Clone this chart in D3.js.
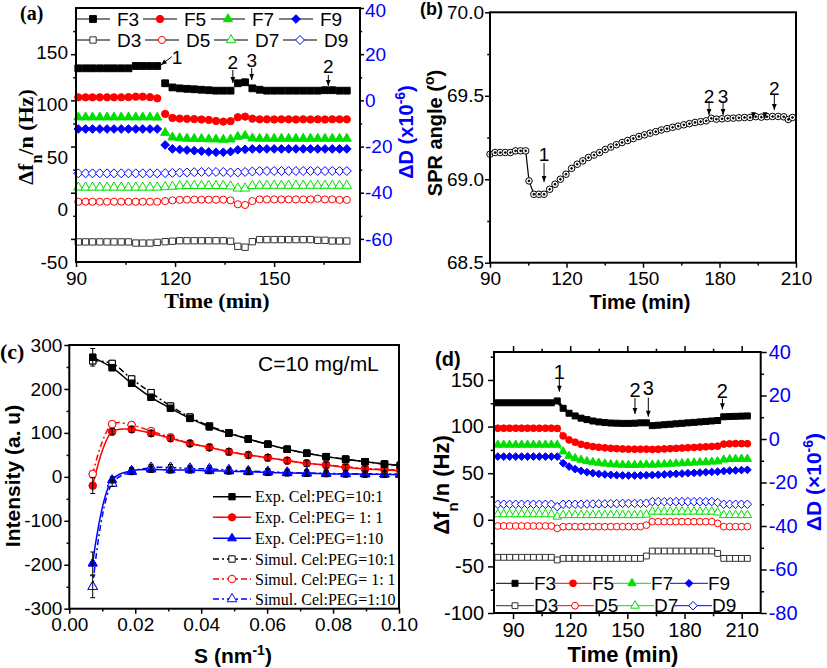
<!DOCTYPE html>
<html><head><meta charset="utf-8">
<script src="https://cdn.jsdelivr.net/npm/d3@7"></script>
<style>body{margin:0;background:#fff}svg{display:block}</style>
</head><body>
<svg id="c" width="827" height="668"></svg>
<script>
// ================= DATA =================
// ---- panel (a) ----
const aTime = [90.7,92.9,95.0,97.2,99.4,101.5,103.7,105.9,108.1,110.2,112.4,114.6,
  117.0,119.2,121.4,123.6,125.8,128.0,130.2,132.4,134.6,136.8,139.0,141.2,143.4,145.6,147.8,150.0,152.2,154.4,156.6,158.8,161.0,163.2,165.4,167.6,169.8,172.0];
const aF3 = [134.7,134.7,134.7,134.7,134.7,134.7,134.7,134.7,137.2,137.2,137.2,137.2,
  118.5,114,113,112.5,112,111.5,111,110.5,110.5,110.5,118.5,119.6,113,111.5,110.5,110.5,110.5,110.5,110.5,110.5,110.5,110.5,111,111,110.5,110.5];
const aF5 = [103.3,103.3,103.3,103.3,103.3,103.3,103.3,103.5,104,104,103.5,102.2,
  85.3,81,80.3,80,79.7,79.3,78.8,77.7,77,77.5,81.7,82.4,80.2,79.5,79.5,79.3,79.5,79.5,79.3,79.5,79.3,79.5,79.3,79.5,79.5,79.5];
const aF7 = [81.7,81.7,81.7,81.7,81.7,81.7,81.7,81.7,81.7,81.7,81.7,81.5,
  65,60,59.2,58.7,58.5,58.3,58,57.9,57.5,57.9,60.7,61.8,58.9,58.6,58.6,58.6,58.6,58.6,58.6,58.6,58.6,58.6,58.6,58.6,58.6,58.6];
const aF9 = [69,69,69,69,69,69,69,69,69,69,69,69,
  51.7,47.4,46.8,46.2,45.5,45,44.2,43.8,43.8,44.5,46.5,47,47.4,47.4,47.4,47.4,47.4,47.4,47.4,47.4,47.4,47.4,47.4,47.4,47.4,47.4];
const aD3 = [-61.3,-61.3,-61.3,-61.3,-61.3,-61.3,-61.3,-61.3,-61.8,-61.8,-61.8,-61.5,
  -61.2,-61.0,-60.8,-60.8,-60.8,-60.8,-60.8,-60.8,-60.8,-61.0,-63.2,-63.6,-61.2,-60.3,-60.3,-60.3,-60.3,-60.3,-60.3,-60.3,-60.3,-60.6,-60.6,-60.9,-60.9,-60.9];
const aD5 = [-43.9,-43.9,-43.9,-43.9,-43.9,-43.9,-43.9,-43.9,-43.9,-43.9,-43.9,-43.9,
  -43.6,-43.3,-43.1,-43.0,-43.0,-43.0,-43.0,-43.0,-43.0,-43.3,-45.0,-45.3,-43.6,-42.9,-42.9,-42.9,-42.9,-42.9,-42.9,-42.9,-42.9,-42.6,-42.9,-42.9,-43.1,-43.1];
const aD7 = [-37.7,-37.7,-37.7,-37.7,-37.7,-37.7,-37.7,-37.7,-37.7,-37.7,-37.7,-37.7,
  -37.5,-37.3,-37.1,-37.0,-37.0,-37.0,-37.0,-37.0,-37.0,-37.2,-38.1,-38.1,-37.0,-36.9,-36.9,-36.9,-36.9,-36.9,-36.9,-36.9,-36.9,-36.9,-36.9,-36.9,-36.9,-36.9];
const aD9 = [-31.6,-31.6,-31.6,-31.6,-31.6,-31.6,-31.6,-31.6,-31.6,-31.6,-31.6,-31.6,
  -31.5,-31.4,-31.3,-31.2,-31.1,-31.0,-31.0,-31.0,-31.0,-31.2,-31.2,-31.0,-30.8,-30.6,-30.6,-30.6,-30.6,-30.6,-30.6,-30.6,-30.6,-30.6,-30.6,-30.6,-30.6,-30.6];
const aXTicks = [90,120,150];
const aYTicks = [-50,0,50,100,150];
const aY2Ticks = [-60,-40,-20,0,20,40];
const aNotes = [
  {txt:'1', t:120.6, v:146.2, t1:119.0, v1:147.3, t2:115.7, v2:138.3},
  {txt:'2', t:137.5, v:141.5, t1:137.5, v1:132.9, t2:137.5, v2:118.8},
  {txt:'3', t:143.2, v:143.7, t1:143.2, v1:135.0, t2:143.2, v2:122.0},
  {txt:'2', t:166.4, v:136.4, t1:166.4, v1:127.5, t2:166.4, v2:115.5}];

// ---- panel (b) ----
const bTime = [90,92,94,96,98,100,102,104,105.3,107.2,109.2,111.2,
  113.4,115.5,117.6,119.8,122.0,124.2,126.4,128.6,130.8,133.0,135.2,137.4,139.6,141.8,144.0,146.2,148.4,150.6,152.8,155.0,157.2,159.4,161.6,163.8,166.0,168.2,170.4,172.6,174.8,
  176.8,178.8,181.0,183.2,185.4,187.6,189.8,192.0,194.2,196.4,198.6,200.8,203.0,205.2,207.0,208.6];
const bAngle = [69.15,69.16,69.16,69.16,69.16,69.17,69.17,69.17,68.99,68.91,68.91,68.91,
  68.94,68.97,69.00,69.03,69.065,69.09,69.11,69.13,69.145,69.16,69.178,69.193,69.207,69.22,69.232,69.244,69.256,69.266,69.276,69.285,69.295,69.303,69.311,69.318,69.326,69.333,69.34,69.345,69.35,
  69.365,69.36,69.362,69.365,69.366,69.368,69.37,69.37,69.375,69.372,69.375,69.376,69.376,69.374,69.358,69.37];
const bXTicks = [90,120,150,180,210];
const bYTicks = [68.5,69.0,69.5,70.0];
const bNotes = [
  {txt:'1', t:111.2, v:69.151, t1:111.2, v1:69.097, t2:111.2, v2:68.984},
  {txt:'2', t:175.9, v:69.493, t1:175.9, v1:69.469, t2:175.9, v2:69.385},
  {txt:'3', t:181.4, v:69.493, t1:181.4, v1:69.469, t2:181.4, v2:69.385},
  {txt:'2', t:201.5, v:69.546, t1:201.5, v1:69.505, t2:201.5, v2:69.415},
  {txt:'',  t:193.3, v:69.40,  t1:193.3, v1:69.400, t2:193.3, v2:69.365},
  {txt:'',  t:197.8, v:69.39,  t1:197.8, v1:69.392, t2:197.8, v2:69.365}];

// ---- panel (c) ----
const cS = [0.0071,0.0130,0.0189,0.0248,0.0307,0.0366,0.0425,0.0484,0.0543,0.0602,0.0661,0.0720,0.0779,0.0838,0.0897,0.0956,0.1004];
const cExp10 = [272,248.6,212.8,181,156,133,114,99,86,74,62.6,53.5,46,40,34.5,29,26];
const cSim10 = [264,258,222.7,191.6,161,136,115.7,100.5,86,74,62.6,53.5,46,40,34.5,29,26];
const cExp1  = [-20,102.8,108,99,87.6,76,67,57,49.7,43.6,36.8,30.7,27,21.6,17.8,15.6,14];
const cSim1  = [6.4,120,118,104,90,76,67,57,49.7,43.6,37,31,27,23,19,17,15.5];
const cExp01 = [-197,-7,14,17,15.5,15.5,14,13,11.8,10,8.7,8,7,6.4,6,5.7,5];
const cSim01 = [-250,-15,12,21,21,19,18,15.5,13,11.8,10,8.7,8,7,7,6.4,6.4];
const cErrExp10 = [20,7,7,7,7,7,7,7,7,7,7,7,7,7,7,7,7];
const cErrExp1  = [18,7,7,7,7,7,7,7,7,7,7,7,7,7,7,7,7];
const cErrExp01 = [26,7,7,7,7,7,7,7,7,7,7,7,7,7,7,7,7];
const cErrSim01 = [25,7,7,7,7,7,7,7,7,7,7,7,7,7,7,7,7];
const cLegend = ['Exp. Cel:PEG=10:1','Exp. Cel:PEG= 1: 1','Exp. Cel:PEG=1:10','Simul. Cel:PEG=10:1','Simul. Cel:PEG= 1: 1','Simul. Cel:PEG=1:10'];
const cXTicks = [0,0.02,0.04,0.06,0.08,0.10];
const cYTicks = [-300,-200,-100,0,100,200,300];

// ---- panel (d) ----
const dTime = [82.0,85.1,88.2,91.4,94.5,97.6,100.7,103.8,107.0,110.1,113.2,116.3,119.4,122.6,125.7,128.8,131.9,135.0,138.2,141.3,144.4,147.5,150.6,153.8,156.9,160.0,163.1,166.2,169.4,172.5,175.6,178.7,181.8,185.0,188.1,191.2,194.3,197.4,200.6,203.7,206.8,209.9,213.0];
const dF3 = [125.5,125.5,125.5,125.5,125.5,125.5,125.5,125.5,125.5,125.5,127.5,119.6,114.3,111.4,109,107.5,106,105,104.3,103.8,103.6,103.4,103.4,103.6,104,104,101,101.5,102,102.5,103,103.5,104,104.5,105,105.5,106,106.5,110.5,110.8,111,111.2,111.4];
const dF5 = [98.2,98.2,98.2,98.2,98.2,98.2,98.2,98.2,98.2,98.2,98,90,85.7,83.2,81,79.6,78.5,77.8,77.2,76.7,76.3,76,75.8,75.7,75.7,75.8,75.5,75.7,76,76.3,76.6,77,77.3,77.6,78,78.3,78.6,79,81.2,81.5,81.7,81.7,81.6];
const dF7 = [80.5,80.5,80.5,80.5,80.5,80.5,80.5,80.5,80.5,80.5,80.5,73.2,68.5,66,64.3,62.8,61.8,61,60.2,59.6,59.2,59,58.8,58.8,59,59.2,59,59.3,59.6,60,60.3,60.6,61,61.3,61.6,62,62.3,62.6,64.5,65,65.2,65.3,65.3];
const dF9 = [67.8,67.8,67.8,67.8,67.8,67.8,67.8,67.8,67.8,67.8,67.8,60.7,57.1,54.3,52.5,51,50,49.2,48.6,48.2,47.8,47.6,47.5,47.5,47.6,47.8,48,48.3,48.6,49,49.3,49.6,50,50.3,50.6,51,51.3,51.6,52.3,52.7,53,53.3,53.6];
const dD3 = [-54.4,-54.4,-54.4,-54.4,-54.4,-54.4,-54.4,-54.4,-54.4,-54.4,-55.6,-54.9,-54.9,-54.9,-54.9,-54.9,-54.9,-54.9,-54.9,-54.9,-54.9,-54.9,-54.9,-54.9,-54.9,-53.8,-51.5,-51.5,-51.5,-51.5,-51.5,-51.5,-51.5,-51.5,-51.5,-51.5,-51.5,-52.6,-54.9,-54.9,-54.9,-54.9,-54.9];
const dD5 = [-40.0,-40.0,-40.0,-40.0,-40.0,-40.0,-40.0,-40.0,-40.0,-40.0,-41.1,-40.3,-40.3,-40.3,-40.3,-40.3,-40.3,-40.3,-40.3,-40.3,-40.3,-40.3,-40.3,-40.3,-40.3,-39.6,-38.0,-38.0,-38.0,-38.0,-38.0,-38.0,-38.0,-38.0,-38.0,-38.0,-38.0,-38.8,-40.3,-40.3,-40.3,-40.3,-40.3];
const dD7 = [-34.6,-34.6,-34.6,-34.6,-34.6,-34.6,-34.6,-34.6,-34.6,-34.6,-35.7,-35.0,-35.0,-35.0,-35.0,-35.0,-35.0,-35.0,-35.0,-35.0,-35.0,-35.0,-35.0,-35.0,-35.0,-34.8,-33.4,-33.4,-33.4,-33.4,-33.4,-33.4,-33.4,-33.4,-33.4,-33.4,-33.4,-33.8,-35.0,-35.0,-35.0,-35.0,-35.0];
const dD9 = [-30.0,-30.0,-30.0,-30.0,-30.0,-30.0,-30.0,-30.0,-30.0,-30.0,-31.1,-30.0,-30.0,-30.0,-30.0,-29.9,-29.9,-29.8,-29.8,-29.7,-29.7,-29.6,-29.6,-29.6,-29.6,-29.5,-28.8,-28.8,-28.8,-28.8,-28.8,-28.8,-28.8,-28.8,-28.8,-28.8,-28.8,-29.2,-30.0,-30.0,-30.0,-30.0,-30.0];
const dXTicks = [90,120,150,180,210];
const dYTicks = [-100,-50,0,50,100,150];
const dY2Ticks = [-80,-60,-40,-20,0,20,40];
const dNotes = [
  {txt:'1', t:114.3, v:158.8, t1:114.3, v1:152.1, t2:114.3, v2:137.4},
  {txt:'2', t:154.0, v:139.3, t1:154.0, v1:130.7, t2:154.0, v2:113.5},
  {txt:'3', t:161.0, v:141.4, t1:161.0, v1:131.0, t2:161.0, v2:110.6},
  {txt:'2', t:199.9, v:138.5, t1:199.9, v1:129.9, t2:199.9, v2:118.5}];

// ================= DRAWING =================
const SANS = 'Arial, "Liberation Sans", sans-serif';
const SERIF = '"Times New Roman", "Liberation Serif", serif';
const RED = '#ff0000', GREEN = '#00e000', BLUE = '#0000ff', BLK = '#000';
const svg = d3.select('#c');
const defs = svg.append('defs');
defs.append('marker').attr('id','ah').attr('viewBox','0 0 10 10').attr('refX',10).attr('refY',5)
  .attr('markerWidth',7).attr('markerHeight',6).attr('orient','auto').attr('markerUnits','userSpaceOnUse')
  .append('path').attr('d','M0,1L10,5L0,9Z').attr('fill','#000');

const diamond = {draw(ctx,size){const r=Math.sqrt(size/2);ctx.moveTo(0,-r);ctx.lineTo(r,0);ctx.lineTo(0,r);ctx.lineTo(-r,0);ctx.closePath();}};
const SQ = d3.symbolSquare, CI = d3.symbolCircle, TR = d3.symbolTriangle, DI = diamond;

function axis(g, gen, major, minor, fmt, fs, color, size, pad, labelFont) {
  const a = gen.tickValues(major).tickSize(size).tickPadding(pad).tickSizeOuter(0).tickFormat(fmt);
  g.call(a);
  g.select('.domain').remove();
  g.selectAll('.tick line').attr('stroke','#000').attr('stroke-width',1.5);
  g.selectAll('.tick text').attr('font-family',labelFont||SANS).attr('font-size',fs).attr('fill',color||'#000');
  if (minor && minor.length) {
    const m = g.append('g');
    m.call(gen.tickValues(minor).tickSize(size*0.55).tickFormat(''));
    m.select('.domain').remove();
    m.selectAll('.tick line').attr('stroke','#000').attr('stroke-width',1.5);
  }
}
function frame(x0,y0,x1,y1){
  svg.append('rect').attr('x',x0).attr('y',y0).attr('width',x1-x0).attr('height',y1-y0)
    .attr('fill','none').attr('stroke','#000').attr('stroke-width',2);
}
function series(g, x, y, xs, ys, o) {
  const pts = xs.map((t,i)=>[t, ys[i]]);
  if (o.line) {
    g.append('path').datum(pts)
      .attr('d', d3.line().x(d=>x(d[0])).y(d=>y(d[1])).curve(o.curve||d3.curveLinear))
      .attr('fill','none').attr('stroke',o.lineColor||o.color).attr('stroke-width',o.lw||1)
      .attr('stroke-dasharray',o.dash||null);
  }
  if (o.type) {
    g.selectAll(null).data(pts).enter().append('path')
      .attr('transform',d=>`translate(${x(d[0])},${y(d[1])})`)
      .attr('d', d3.symbol().type(o.type).size(o.size))
      .attr('fill', o.filled ? o.color : '#fff')
      .attr('stroke', o.color).attr('stroke-width', o.sw||1);
  }
}
function notes(g, x, y, arr, fs) {
  arr.forEach(n => {
    if (n.txt) g.append('text').attr('x',x(n.t)).attr('y',y(n.v)).attr('text-anchor','middle')
      .attr('dominant-baseline','central').attr('font-family',SANS).attr('font-size',fs).text(n.txt);
    g.append('line').attr('x1',x(n.t1)).attr('y1',y(n.v1)).attr('x2',x(n.t2)).attr('y2',y(n.v2))
      .attr('stroke','#000').attr('stroke-width',1).attr('marker-end','url(#ah)');
  });
}
function legendItem(g, x, y, label, o, lineHalf, fs, font, gap) {
  g.append('line').attr('x1',x-lineHalf).attr('x2',x+lineHalf).attr('y1',y).attr('y2',y)
    .attr('stroke',o.lineColor||o.color).attr('stroke-width',o.lw||1).attr('stroke-dasharray',o.dash||null);
  g.append('path').attr('transform',`translate(${x},${y})`).attr('d',d3.symbol().type(o.type).size(o.size))
    .attr('fill',o.filled?o.color:'#fff').attr('stroke',o.color).attr('stroke-width',o.sw||1);
  g.append('text').attr('x',x+lineHalf+gap).attr('y',y).attr('dominant-baseline','central')
    .attr('font-family',font).attr('font-size',fs).text(label);
}
const fmtPlain = d => String(d);

// ---------- Panel (a) ----------
{
  const x = d3.scaleLinear([90,176],[76,360]);
  const y = d3.scaleLinear([-75,200],[262,8]);
  const y2 = d3.scaleLinear([-70,40],[262,8]);
  const labelY = d3.scaleLinear([-50,150],[262,52]); // label placement as printed
  const g = svg.append('g');
  const F = [
    {v:aF3,type:SQ,color:BLK,filled:true,size:46,name:'F3'},
    {v:aF5,type:CI,color:RED,filled:true,size:42,name:'F5'},
    {v:aF7,type:TR,color:GREEN,filled:true,size:36,name:'F7'},
    {v:aF9,type:DI,color:BLUE,filled:true,size:38,name:'F9'}];
  const D = [
    {v:aD3,type:SQ,color:'#333',filled:false,size:40,name:'D3'},
    {v:aD5,type:CI,color:RED,filled:false,size:40,name:'D5'},
    {v:aD7,type:TR,color:GREEN,filled:false,size:38,name:'D7'},
    {v:aD9,type:DI,color:BLUE,filled:false,size:40,name:'D9'}];
  D.forEach(s => series(g, x, y2, aTime, s.v, Object.assign({line:true,lw:1},s)));
  F.forEach(s => series(g, x, y, aTime, s.v, Object.assign({line:false},s)));
  frame(76,8,360,262);
  axis(svg.append('g').attr('transform','translate(0,262)'), d3.axisBottom(x), aXTicks, [105,135,165], fmtPlain, 19, BLK, 5, 5);
  const gl = svg.append('g').attr('transform','translate(76,0)');
  axis(gl, d3.axisLeft(y), aYTicks, [-25,25,75,125,175], fmtPlain, 19, BLK, 5, 3);
  gl.selectAll('.tick text').attr('y', d => labelY(d) - y(d));
  const gr = svg.append('g').attr('transform','translate(360,0)');
  axis(gr, d3.axisRight(y2), aY2Ticks, [-50,-30,-10,10,30], fmtPlain, 19, BLUE, 4, 1);
  gr.selectAll('.tick text').filter(d => d === 40).attr('y', 2);
  // legend
  const lg = svg.append('g');
  const fx = [93,160,228,296], dx = [93,162,231,300];
  F.forEach((s,i)=>legendItem(lg, fx[i], 19, s.name, Object.assign({lineColor:BLK},s), 17, 19, SANS, 7));
  D.forEach((s,i)=>legendItem(lg, dx[i], 40, s.name, Object.assign({lineColor:BLK},s), 17, 19, SANS, 7));
  notes(g, x, y, aNotes, 19);
  // titles
  svg.append('text').attr('x',20).attr('y',20).attr('font-family',SERIF).attr('font-weight','bold').attr('font-size',20).text('(a)');
  const ty = svg.append('text').attr('transform','translate(33,137) rotate(-90)').attr('text-anchor','middle')
    .attr('font-family',SERIF).attr('font-weight','bold').attr('font-size',22);
  ty.append('tspan').text('Δf'); ty.append('tspan').attr('baseline-shift','sub').attr('font-size',16).text('n'); ty.append('tspan').text('/n (Hz)');
  const tr = svg.append('text').attr('transform','translate(413,132) rotate(-90)').attr('text-anchor','middle')
    .attr('font-family',SANS).attr('font-weight','bold').attr('font-size',20).attr('fill',BLUE);
  tr.append('tspan').text('ΔD (x10'); tr.append('tspan').attr('baseline-shift','super').attr('font-size',14).text('-6'); tr.append('tspan').text(')');
  svg.append('text').attr('x',217).attr('y',308).attr('text-anchor','middle').attr('font-family',SERIF)
    .attr('font-weight','bold').attr('font-size',22).text('Time (min)');
}

// ---------- Panel (b) ----------
{
  const x = d3.scaleLinear([90,210],[490,796]);
  const y = d3.scaleLinear([68.5,70],[262.7,12.3]);
  const g = svg.append('g');
  series(g, x, y, bTime, bAngle, {line:true,lw:1.2,color:BLK,type:CI,size:34,filled:false,sw:1});
  // centre dots of the open circles
  series(g, x, y, bTime, bAngle, {line:false,color:BLK,type:CI,size:2.5,filled:true,sw:0});
  frame(490,12.3,796,262.7);
  axis(svg.append('g').attr('transform','translate(0,262.7)'), d3.axisBottom(x), bXTicks, [105,135,165,195], fmtPlain, 19, BLK, 5, 4);
  axis(svg.append('g').attr('transform','translate(490,0)'), d3.axisLeft(y), bYTicks, [68.75,69.25,69.75], d3.format('.1f'), 19, BLK, 5, 1);
  notes(g, x, y, bNotes, 19);
  svg.append('text').attr('x',420).attr('y',15).attr('font-family',SANS).attr('font-weight','bold').attr('font-size',18).text('(b)');
  const ty = svg.append('text').attr('transform','translate(442,133) rotate(-90)').attr('text-anchor','middle')
    .attr('font-family',SANS).attr('font-weight','bold').attr('font-size',20);
  ty.append('tspan').text('SPR angle ('); ty.append('tspan').attr('baseline-shift','super').attr('font-size',14).text('o'); ty.append('tspan').text(')');
  svg.append('text').attr('x',640).attr('y',309).attr('text-anchor','middle').attr('font-family',SANS)
    .attr('font-weight','bold').attr('font-size',20).text('Time (min)');
}

// ---------- Panel (c) ----------
{
  const x = d3.scaleLinear([0,0.1],[69.3,399]);
  const y = d3.scaleLinear([-300,300],[608.7,345]);
  defs.append('clipPath').attr('id','clipC').append('rect').attr('x',69.3).attr('y',345).attr('width',329.7).attr('height',263.7);
  const g = svg.append('g').attr('clip-path','url(#clipC)');
  const cur = d3.curveCatmullRom.alpha(0.5);
  const S = [
    {v:cExp10,type:SQ,color:BLK,filled:true,size:40,name:cLegend[0],err:cErrExp10},
    {v:cExp1,type:CI,color:RED,filled:true,size:42,name:cLegend[1],err:cErrExp1},
    {v:cExp01,type:TR,color:BLUE,filled:true,size:34,name:cLegend[2],err:cErrExp01},
    {v:cSim10,type:SQ,color:BLK,filled:false,size:40,name:cLegend[3],dash:'6,3,2,3'},
    {v:cSim1,type:CI,color:RED,filled:false,size:44,name:cLegend[4],dash:'6,3,2,3'},
    {v:cSim01,type:TR,color:BLUE,filled:false,size:40,name:cLegend[5],dash:'6,3,2,3',err:cErrSim01}];
  S.forEach(s => series(g, x, y, cS, s.v, Object.assign({line:true,lw:1.5,curve:cur,type:null},s)));
  S.slice().reverse().forEach(s => series(g, x, y, cS, s.v, Object.assign({line:false},s)));
  // error bars
  S.filter(s=>s.err).forEach(s => {
    cS.forEach((sv,i) => {
      const cx = x(sv), e = s.err[i];
      g.append('line').attr('x1',cx).attr('x2',cx).attr('y1',y(s.v[i]-e)).attr('y2',y(s.v[i]+e)).attr('stroke','#000').attr('stroke-width',1);
      [s.v[i]-e, s.v[i]+e].forEach(ev => g.append('line').attr('x1',cx-2.5).attr('x2',cx+2.5).attr('y1',y(ev)).attr('y2',y(ev)).attr('stroke','#000').attr('stroke-width',1));
    });
  });
  frame(69.3,345,399,608.7);
  axis(svg.append('g').attr('transform','translate(0,608.7)'), d3.axisBottom(x), cXTicks, [0.01,0.03,0.05,0.07,0.09], d3.format('.2f'), 19, BLK, 5, 4);
  axis(svg.append('g').attr('transform','translate(69.3,0)'), d3.axisLeft(y), cYTicks, [-250,-150,-50,50,150,250], fmtPlain, 19, BLK, 5, 2);
  const lg = svg.append('g');
  const rows = [496.7,517.3,538.3,559,579,599];
  S.forEach((s,i)=>legendItem(lg, 232, rows[i], s.name, Object.assign({lw:1.5},s), 19, 16, SERIF, 4));
  svg.append('text').attr('x',258).attr('y',371).attr('font-family',SANS).attr('font-size',21).text('C=10 mg/mL');
  svg.append('text').attr('x',0).attr('y',359).attr('font-family',SERIF).attr('font-weight','bold').attr('font-size',22).text('(c)');
  svg.append('text').attr('transform','translate(20,476) rotate(-90)').attr('text-anchor','middle')
    .attr('font-family',SANS).attr('font-weight','bold').attr('font-size',21).text('Intensity (a. u)');
  const tx = svg.append('text').attr('x',233).attr('y',663).attr('text-anchor','middle').attr('font-family',SANS)
    .attr('font-weight','bold').attr('font-size',21);
  tx.append('tspan').text('S (nm'); tx.append('tspan').attr('baseline-shift','super').attr('font-size',14).text('-1'); tx.append('tspan').text(')');
}

// ---------- Panel (d) ----------
{
  const x = d3.scaleLinear([80,220],[494,760.7]);
  const y = d3.scaleLinear([-100,180],[613,352]);
  const y2 = d3.scaleLinear([-80,40],[613,352]);
  const g = svg.append('g');
  const F = [
    {v:dF3,type:SQ,color:BLK,filled:true,size:36,name:'F3'},
    {v:dF5,type:CI,color:RED,filled:true,size:36,name:'F5'},
    {v:dF7,type:TR,color:GREEN,filled:true,size:30,name:'F7'},
    {v:dF9,type:DI,color:BLUE,filled:true,size:30,name:'F9'}];
  const D = [
    {v:dD3,type:SQ,color:'#333',filled:false,size:34,name:'D3'},
    {v:dD5,type:CI,color:RED,filled:false,size:36,name:'D5'},
    {v:dD7,type:TR,color:GREEN,filled:false,size:32,name:'D7'},
    {v:dD9,type:DI,color:BLUE,filled:false,size:36,name:'D9'}];
  D.forEach(s => series(g, x, y2, dTime, s.v, Object.assign({line:true,lw:1},s)));
  F.forEach(s => series(g, x, y, dTime, s.v, Object.assign({line:true,lw:s.name==='F3'?3:1},s)));
  frame(494,352,760.7,613);
  axis(svg.append('g').attr('transform','translate(0,613)'), d3.axisBottom(x), dXTicks, [105,135,165,195], fmtPlain, 20, BLK, 6, 4);
  axis(svg.append('g').attr('transform','translate(0,352)'), d3.axisTop(x), dXTicks, [105,135,165,195], ()=>'', 20, BLK, 6, 4);
  axis(svg.append('g').attr('transform','translate(494,0)'), d3.axisLeft(y), dYTicks, [-75,-25,25,75,125,175], fmtPlain, 20, BLK, 6, 4);
  axis(svg.append('g').attr('transform','translate(760.7,0)'), d3.axisRight(y2), dY2Ticks, [-70,-50,-30,-10,10,30], fmtPlain, 20, BLUE, 6, 2);
  const lg = svg.append('g');
  const fx = [515,573,632,689], dx = [515,575,635,693];
  F.forEach((s,i)=>legendItem(lg, fx[i], 583.3, s.name, Object.assign({lw:1},s), 19, 19, SANS, 0));
  D.forEach((s,i)=>legendItem(lg, dx[i], 605.7, s.name, Object.assign({lw:1},s), 19, 19, SANS, 0));
  notes(g, x, y, dNotes, 20);
  svg.append('text').attr('x',435).attr('y',366).attr('font-family',SANS).attr('font-weight','bold').attr('font-size',20).text('(d)');
  const ty = svg.append('text').attr('transform','translate(449,485) rotate(-90)').attr('text-anchor','middle')
    .attr('font-family',SANS).attr('font-weight','bold').attr('font-size',22);
  ty.append('tspan').text('Δf'); ty.append('tspan').attr('baseline-shift','sub').attr('font-size',15).text('n'); ty.append('tspan').text('/n (Hz)');
  const tr = svg.append('text').attr('transform','translate(821,482) rotate(-90)').attr('text-anchor','middle')
    .attr('font-family',SANS).attr('font-weight','bold').attr('font-size',21).attr('fill',BLUE);
  tr.append('tspan').text('ΔD (×10'); tr.append('tspan').attr('baseline-shift','super').attr('font-size',14).text('-6'); tr.append('tspan').text(')');
  svg.append('text').attr('x',623).attr('y',662).attr('text-anchor','middle').attr('font-family',SANS)
    .attr('font-weight','bold').attr('font-size',22).text('Time (min)');
}
</script>
</body></html>
